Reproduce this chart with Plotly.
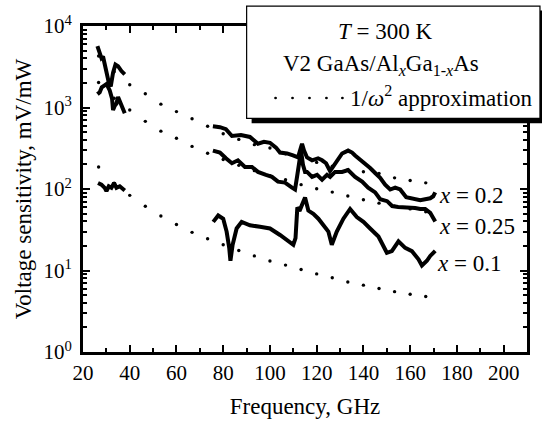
import plotly.graph_objects as go

# ---------------- data ----------------
# 1/omega^2 approximation (dotted)
dot_freq = [26.67, 33.33, 40.0, 46.67, 53.33, 60.0, 66.67, 73.33, 80.0, 86.67, 93.33,
            100.0, 106.67, 113.33, 120.0, 126.67, 133.33, 140.0, 146.67, 153.33, 160.0, 166.67]
dot_top = [4285, 2743, 1905, 1472, 1100, 890, 728, 589, 476, 406, 350,
           319, 270, 237, 212, 190, 172, 163, 155, 137, 127, 119]
dot_mid = [2030, 1300, 932, 676, 513, 420, 333, 275, 230, 195, 168,
           146, 130, 113, 100.6, 91.6, 82.0, 73.9, 67.0, 61.5, 57.0, 52.5]
dot_low = [186, 118, 83.6, 61.3, 46.6, 36.7, 29.4, 24.5, 20.7, 17.6, 15.1,
           13.1, 11.65, 10.3, 9.09, 8.15, 7.24, 6.61, 6.02, 5.50, 5.11, 4.79]

# x = 0.2
f02_low = [26.17, 27.16, 27.89, 28.57, 29.60, 30.46, 31.02, 31.87, 32.86, 33.89, 35.0, 36.46, 37.87]
v02_low = [5658, 4853, 4036, 4229, 2926, 2441, 2030, 1818, 2673, 3357, 3213, 2800, 2550]
f02_high = [75.59, 78.59, 81.16, 83.73, 87.59, 91.44, 94.87, 97.44, 100.02, 102.59, 104.30,
            107.30, 109.87, 112.02, 112.87, 113.73, 114.59, 115.87, 118.02, 120.59, 122.30,
            124.02, 125.73, 127.44, 128.73, 130.87, 133.44, 135.16, 136.44, 138.59, 140.73,
            142.87, 145.02, 147.16, 149.30, 151.45, 153.59, 155.73, 158.30, 160.02, 162.16,
            164.30, 166.44, 168.59, 169.87, 170.73]
v02_high = [589, 573, 542, 447, 460, 435, 359, 379, 369, 322, 280,
            273, 258, 244, 296, 359, 296, 244, 225, 238, 225,
            207, 166, 196, 225, 273, 296, 280, 258, 231, 207,
            181, 157, 137, 113, 98.6, 104, 98.6, 79.1, 77.0, 74.9,
            72.9, 74.9, 77.0, 81.4, 90.8]

# x = 0.25
f025_low = [26.17, 27.16, 28.02, 29.09, 30.03, 30.59, 31.44, 32.43, 32.86, 33.59, 34.32, 35.0, 36.16, 37.14, 37.87]
v025_low = [1460, 1542, 1770, 1870, 1938, 1818, 1616, 1283, 932, 1049, 1118, 1344, 1118, 890, 849]
f025_high = [75.59, 78.59, 81.16, 83.73, 86.30, 89.30, 92.30, 94.87, 98.30, 100.87, 103.44,
             106.44, 109.44, 110.73, 111.59, 112.44, 113.30, 114.16, 115.02, 115.87, 118.02,
             120.16, 122.30, 124.44, 125.73, 127.87, 130.87, 133.44, 136.44, 139.44, 142.02,
             145.02, 147.16, 150.16, 152.30, 154.87, 157.87, 160.02, 162.16, 164.30, 166.44,
             168.59, 169.87, 170.73]
v025_high = [296, 280, 238, 207, 225, 186, 186, 162, 149, 141, 123,
             120, 104, 98.6, 141, 225, 296, 196, 162, 162, 141,
             149, 130, 149, 141, 162, 162, 171, 141, 123, 104,
             90.8, 74.9, 70.9, 61.8, 60.1, 60.1, 58.5, 58.5, 56.9, 56.9,
             51.0, 44.4, 39.8]

# x = 0.1
f01_low = [26.43, 27.89, 29.30, 30.03, 31.02, 32.17, 33.29, 34.32, 35.73, 37.14, 37.87]
v01_low = [118.6, 113.2, 103.3, 94.1, 108.0, 103.3, 118.6, 103.3, 108.0, 98.6, 96.0]
f01_high = [75.72, 77.86, 80.0, 81.46, 82.57, 83.09, 84.03, 85.74, 87.89, 91.44, 95.73,
            100.02, 104.30, 107.17, 110.0, 110.94, 111.72, 112.66, 113.60, 114.37, 115.02,
            116.43, 118.57, 120.72, 122.86, 125.0, 126.46, 128.60, 131.43, 134.30, 137.17,
            140.0, 142.87, 146.43, 150.03, 152.17, 155.0, 157.87, 160.74, 163.57, 165.03,
            167.17, 168.59, 170.73]
v01_high = [39.5, 47.3, 43.2, 30.0, 18.95, 13.15, 20.7, 32.8, 39.5, 35.9, 34.4,
            32.8, 27.3, 23.8, 20.7, 24.9, 59.6, 53.9, 62.3, 74.9, 78.5,
            54.3, 49.6, 43.2, 35.9, 30.0, 20.7, 30.0, 43.2, 56.9, 45.3,
            39.5, 32.8, 26.1, 16.5, 17.3, 22.8, 18.95, 17.3, 13.7, 11.5,
            13.15, 15.1, 17.4]

x_ticks = [20, 40, 60, 80, 100, 120, 140, 160, 180, 200]
y_ticks = [1, 10, 100, 1000, 10000]
y_ticktext = ["10<sup>0</sup>", "10<sup>1</sup>", "10<sup>2</sup>", "10<sup>3</sup>", "10<sup>4</sup>"]
series_labels = ["<i>x</i> = 0.2", "<i>x</i> = 0.25", "<i>x</i> = 0.1"]

# ---------------- figure ----------------
FONT = "Liberation Serif, Times New Roman, serif"
W, H = 542, 427
ML, MR, MT, MB = 83, 14, 22, 70
PW, PH = W - ML - MR, H - MT - MB


def px2paper(px, py):
    return (px - ML) / PW, (H - MB - py) / PH


fig = go.Figure()

for vals in (dot_top, dot_mid, dot_low):
    fig.add_trace(go.Scatter(x=dot_freq, y=vals, mode="markers",
                             marker=dict(color="black", size=3.4),
                             hoverinfo="skip", showlegend=False))

for fl, vl, fh, vh in ((f02_low, v02_low, f02_high, v02_high),
                       (f025_low, v025_low, f025_high, v025_high),
                       (f01_low, v01_low, f01_high, v01_high)):
    fig.add_trace(go.Scatter(x=fl + [None] + fh, y=vl + [None] + vh, mode="lines",
                             line=dict(color="black", width=4),
                             connectgaps=False, hoverinfo="skip", showlegend=False))

minor_y = [m * 10 ** k for k in range(4) for m in range(2, 10)]

fig.update_layout(
    width=W, height=H,
    margin=dict(l=ML, r=MR, t=MT, b=MB, pad=0),
    paper_bgcolor="white", plot_bgcolor="white",
    font=dict(family=FONT, color="black", size=21),
    showlegend=False,
    xaxis=dict(range=[20, 210], tickmode="array", tickvals=x_ticks,
               ticks="inside", ticklen=7, tickwidth=2, tickcolor="black",
               showline=True, linewidth=3, linecolor="black", mirror="ticks",
               showgrid=False, zeroline=False,
               tickfont=dict(size=21, family=FONT),
               minor=dict(tickmode="linear", tick0=10, dtick=10, ticks="inside",
                          ticklen=4, tickwidth=2, tickcolor="black", showgrid=False),
               title=dict(text="Frequency, GHz", font=dict(size=23, family=FONT), standoff=14)),
    yaxis=dict(type="log", range=[0, 4], tickmode="array", tickvals=y_ticks,
               ticktext=y_ticktext,
               ticks="inside", ticklen=7, tickwidth=2, tickcolor="black",
               showline=True, linewidth=3, linecolor="black", mirror="ticks",
               showgrid=False, zeroline=False, ticklabelstandoff=4,
               tickfont=dict(size=21, family=FONT),
               minor=dict(tickmode="array", tickvals=minor_y, ticks="inside",
                          ticklen=4, tickwidth=1.5, tickcolor="black", showgrid=False),
               title=dict(text="Voltage sensitivity, mV/mW", font=dict(size=23, family=FONT), standoff=6)),
)

# legend-like box with shadow
bx0, by1 = px2paper(247, 117)
bx1, by0 = px2paper(541, 1.5)
sx0, sy1 = px2paper(252, 122)
sx1, sy0 = px2paper(546, 6)
fig.add_shape(type="rect", xref="paper", yref="paper", x0=sx0, x1=sx1, y0=sy1, y1=sy0,
              fillcolor="black", line=dict(width=0), layer="above")
fig.add_shape(type="rect", xref="paper", yref="paper", x0=bx0, x1=bx1, y0=by1, y1=by0,
              fillcolor="white", line=dict(color="black", width=1.2), layer="above")

ax, ay = px2paper(386, 28)
fig.add_annotation(xref="paper", yref="paper", x=ax, y=ay, text="<i>T</i> = 300 K",
                   showarrow=False, font=dict(size=23, family=FONT), xanchor="center", yanchor="middle")
ax, ay = px2paper(382, 62)
fig.add_annotation(xref="paper", yref="paper", x=ax, y=ay,
                   text="V2 GaAs/Al<sub><i>x</i></sub>Ga<sub>1-<i>x</i></sub>As",
                   showarrow=False, font=dict(size=23, family=FONT), xanchor="center", yanchor="middle")
ax, ay = px2paper(349, 94)
fig.add_annotation(xref="paper", yref="paper", x=ax, y=ay,
                   text="1/<i>ω</i><sup>2</sup> approximation",
                   showarrow=False, font=dict(size=23, family=FONT), xanchor="left", yanchor="middle")
for dx in (276, 293, 310, 327, 343):
    cx, cy = px2paper(dx, 96)
    r = 1.4
    fig.add_shape(type="circle", xref="paper", yref="paper",
                  x0=cx - r / PW, x1=cx + r / PW, y0=cy - r / PH, y1=cy + r / PH,
                  fillcolor="black", line=dict(width=0), layer="above")

# series labels
for lab, (lx, ly) in zip(series_labels, [(438, 196), (438, 228), (436, 266)]):
    px_, py_ = px2paper(lx, ly)
    fig.add_annotation(xref="paper", yref="paper", x=px_, y=py_, text=lab, showarrow=False,
                       font=dict(size=23, family=FONT), xanchor="left", yanchor="middle")

fig.write_html("out.html")
